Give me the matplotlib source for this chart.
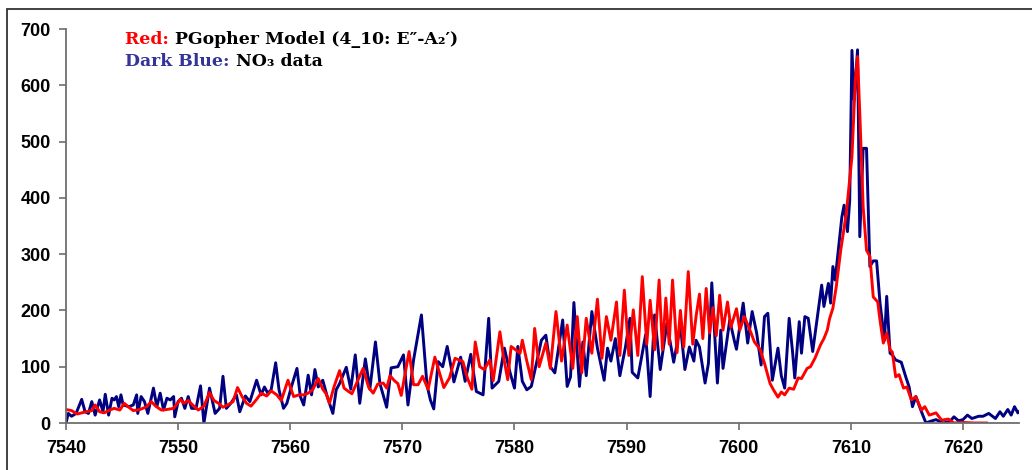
import matplotlib
matplotlib.use("Agg")
import matplotlib.pyplot as plt
from matplotlib.patches import Rectangle

# ---------------- data ----------------
blue_wn = [
    7540.0, 7540.2, 7540.5, 7540.9, 7541.4, 7541.7, 7542.0, 7542.3, 7542.6, 7543.0,
    7543.3, 7543.5, 7543.8, 7544.1, 7544.3, 7544.5, 7544.7, 7544.9, 7545.1, 7545.6,
    7546.0, 7546.3, 7546.4, 7546.7, 7547.0, 7547.3, 7547.8, 7548.1, 7548.4, 7548.7,
    7549.0, 7549.3, 7549.6, 7549.7, 7550.0, 7550.3, 7550.6, 7550.9, 7551.2, 7551.6,
    7552.0, 7552.3, 7552.8, 7553.3, 7553.7, 7554.0, 7554.3, 7554.7, 7555.2, 7555.5,
    7556.0, 7556.4, 7556.8, 7557.0, 7557.4, 7557.7, 7558.0, 7558.3, 7558.7, 7559.0,
    7559.4, 7559.7, 7560.1, 7560.6, 7560.9, 7561.2, 7561.6, 7561.9, 7562.2, 7562.5,
    7562.9, 7563.3, 7563.8, 7564.1, 7564.4, 7565.0, 7565.4, 7565.8, 7566.2, 7566.7,
    7567.1, 7567.6, 7568.0, 7568.6, 7569.0, 7569.6, 7570.1, 7570.5, 7571.0, 7571.7,
    7572.2, 7572.5, 7572.8, 7573.2, 7573.6, 7574.0, 7574.6, 7575.2, 7575.6, 7576.1,
    7576.6, 7577.2, 7577.7, 7578.0, 7578.6, 7579.1, 7579.6, 7580.0, 7580.3, 7580.7,
    7581.1, 7581.5, 7582.0, 7582.4, 7582.8, 7583.2, 7583.6, 7584.3, 7584.7, 7585.0,
    7585.3, 7585.8, 7586.1, 7586.4, 7586.9, 7587.4, 7588.0, 7588.3, 7588.6, 7589.0,
    7589.4, 7589.9, 7590.3, 7590.5, 7591.0, 7591.7, 7592.1, 7592.5, 7593.0, 7593.6,
    7594.2, 7594.8, 7595.2, 7595.6, 7596.0, 7596.2, 7596.5, 7597.0, 7597.3, 7597.6,
    7598.1, 7598.4, 7598.6, 7599.2, 7599.6, 7599.8, 7600.4, 7600.8, 7601.2, 7601.6,
    7602.0, 7602.3, 7602.6, 7603.0, 7603.5, 7603.8, 7604.1, 7604.5, 7604.8, 7605.0,
    7605.4, 7605.6, 7605.9, 7606.2, 7606.6, 7607.4, 7607.6, 7608.0, 7608.2, 7608.4,
    7608.6, 7609.2, 7609.4, 7609.7, 7609.9, 7610.1, 7610.3, 7610.6, 7610.8, 7611.1,
    7611.4, 7611.7, 7612.0, 7612.3, 7612.6, 7613.0, 7613.2, 7613.5, 7613.7, 7614.0,
    7614.5, 7614.9, 7615.2, 7615.5, 7615.8, 7616.3, 7616.7, 7617.1, 7617.6, 7618.2,
    7618.8, 7619.2, 7619.6, 7620.0, 7620.4, 7620.8, 7621.4, 7621.8, 7622.3, 7622.9,
    7623.3, 7623.6, 7624.0, 7624.3, 7624.6, 7624.9, 7625.2,
]
blue_int = [
    0, 17, 12, 17, 42, 20, 17, 38, 14, 41,
    20, 51, 14, 44, 41, 47, 29, 50, 32, 29,
    32, 50, 17, 47, 38, 17, 62, 29, 53, 23,
    44, 41, 47, 11, 38, 44, 26, 47, 26, 26,
    66, 0, 62, 17, 26, 83, 26, 35, 50, 20,
    48, 38, 63, 76, 50, 64, 53, 59, 107, 59,
    26, 35, 64, 97, 47, 32, 85, 50, 95, 64,
    76, 47, 17, 59, 70, 99, 60, 121, 35, 114,
    60, 144, 70, 28, 98, 100, 121, 32, 112, 192,
    67, 41, 25, 109, 100, 136, 73, 117, 74, 122,
    56, 50, 186, 62, 74, 133, 90, 62, 136, 74,
    59, 65, 110, 147, 156, 100, 89, 183, 65, 82,
    214, 65, 144, 84, 198, 133, 76, 133, 110, 150,
    84, 135, 186, 90, 80, 157, 47, 192, 95, 177,
    108, 174, 95, 135, 110, 147, 135, 71, 106, 249,
    71, 165, 97, 183, 147, 131, 213, 142, 198, 160,
    103, 189, 195, 76, 133, 84, 62, 186, 127, 80,
    180, 124, 189, 186, 127, 245, 207, 248, 213, 278,
    254, 366, 387, 340, 395, 662, 574, 663, 331, 488,
    488, 278, 288, 288, 214, 147, 225, 124, 121, 112,
    108, 82, 64, 29, 47, 20, 0, 3, 6, 0,
    2, 11, 4, 6, 14, 8, 12, 12, 17, 8,
    20, 12, 24, 14, 29, 18, 24,
]

red_wn = [
    7540.0, 7540.5, 7541.0, 7541.4, 7541.8, 7542.3, 7542.6, 7543.0, 7543.4, 7543.9,
    7544.3, 7544.8, 7545.2, 7545.6, 7546.0, 7546.6, 7547.2, 7547.6, 7548.0, 7548.5,
    7549.0, 7549.6, 7550.2, 7550.5, 7550.9, 7551.4, 7551.8, 7552.3, 7552.8, 7553.2,
    7553.6, 7554.0, 7554.5, 7554.9, 7555.3, 7555.7, 7556.1, 7556.5, 7557.0, 7557.4,
    7557.9, 7558.3, 7558.8, 7559.2, 7559.8, 7560.3, 7560.8, 7561.2, 7561.6, 7562.0,
    7562.5, 7562.9, 7563.2, 7563.5, 7563.9, 7564.4, 7564.8, 7565.2, 7565.5, 7565.9,
    7566.5, 7567.0, 7567.4, 7567.8, 7568.3, 7568.6, 7568.9, 7569.3, 7569.6, 7569.9,
    7570.6, 7571.0, 7571.4, 7571.8, 7572.3, 7572.9, 7573.3, 7573.7, 7574.2, 7574.7,
    7575.4, 7575.8, 7576.2, 7576.5, 7576.9, 7577.3, 7577.8, 7578.1, 7578.7, 7579.0,
    7579.4, 7579.7, 7580.1, 7580.5, 7580.7, 7581.1, 7581.5, 7581.8, 7582.2, 7582.8,
    7583.2, 7583.7, 7584.2, 7584.7, 7585.2, 7585.6, 7586.0, 7586.4, 7586.9, 7587.4,
    7587.8, 7588.2, 7588.6, 7589.1, 7589.4, 7589.8, 7590.2, 7590.6, 7591.0, 7591.4,
    7591.8, 7592.1, 7592.5, 7592.9, 7593.2, 7593.5, 7593.8, 7594.1, 7594.5, 7594.8,
    7595.1, 7595.5, 7595.9, 7596.2, 7596.5, 7596.8, 7597.1, 7597.4, 7597.7, 7598.0,
    7598.3, 7598.6, 7599.0, 7599.3, 7599.6, 7599.8, 7600.1, 7600.5, 7600.8, 7601.1,
    7601.4, 7601.9, 7602.3, 7602.8, 7603.1, 7603.5, 7603.8, 7604.1, 7604.5, 7604.9,
    7605.3, 7605.6, 7606.1, 7606.4, 7606.8, 7607.3, 7607.6, 7607.9, 7608.1, 7608.4,
    7608.7, 7609.1, 7609.6, 7610.1, 7610.4, 7610.6, 7610.8, 7611.1, 7611.4, 7611.7,
    7612.0, 7612.4, 7612.6, 7612.9, 7613.2, 7613.5, 7613.7, 7614.0, 7614.3, 7614.7,
    7615.0, 7615.4, 7615.8, 7616.3, 7616.6, 7617.0, 7617.6, 7618.1, 7618.7, 7619.2,
    7620.0, 7621.0, 7622.1,
]
red_int = [
    24, 22, 16, 18, 20, 22, 32, 20, 18, 23,
    26, 23, 35, 28, 22, 24, 29, 38, 30, 23,
    24, 26, 42, 35, 40, 30, 23, 30, 54, 40,
    35, 28, 33, 38, 63, 47, 35, 30, 42, 53,
    48, 57, 50, 40, 76, 47, 50, 50, 53, 59,
    79, 60, 52, 35, 64, 93, 62, 56, 52, 70,
    97, 63, 53, 69, 71, 62, 84, 75, 70, 49,
    127, 68, 68, 83, 60, 117, 90, 63, 80, 115,
    109, 80, 60, 144, 100, 95, 112, 75, 162, 120,
    77, 136, 130, 124, 147, 110, 77, 168, 100, 142,
    97, 198, 110, 174, 97, 189, 89, 186, 124, 220,
    115, 189, 147, 215, 120, 236, 120, 201, 120, 260,
    140, 218, 130, 254, 130, 222, 140, 254, 125, 200,
    135, 269, 140, 190, 229, 150, 239, 160, 205, 155,
    227, 165, 215, 170, 190, 203, 165, 189, 175, 160,
    144, 131, 106, 70, 59, 46, 55, 50, 62, 60,
    80, 79, 97, 100, 115, 139, 150, 165, 185, 204,
    242, 307, 373, 473, 609, 651, 550, 384, 307, 296,
    224, 215, 183, 142, 160, 130, 126, 82, 86, 62,
    64, 41, 47, 23, 29, 14, 18, 5, 7, 0,
    1, 0, 0,
]
assert len(blue_wn) == len(blue_int)
assert len(red_wn) == len(red_int)

x_ticks = [7540, 7550, 7560, 7570, 7580, 7590, 7600, 7610, 7620]
y_ticks = [0, 100, 200, 300, 400, 500, 600, 700]

# ---------------- figure ----------------
W, H = 1032, 470
fig = plt.figure(figsize=(W / 100, H / 100), dpi=100)
ax = fig.add_axes([66 / W, 1 - 423 / H, (1019 - 66) / W, (423 - 29) / H])

ax.plot(blue_wn, blue_int, color="#000080", lw=2.1, solid_joinstyle="round")
ax.plot(red_wn, red_int, color="#ff0000", lw=2.1, solid_joinstyle="round")

ax.set_xlim(7540, 7625.0)
ax.set_ylim(0, 700)
ax.set_xticks(x_ticks)
ax.set_yticks(y_ticks)
for s in ("top", "right"):
    ax.spines[s].set_visible(False)
for s in ("left", "bottom"):
    ax.spines[s].set_color("#6e6e6e")
    ax.spines[s].set_linewidth(1.3)
ax.tick_params(direction="out", length=5, width=1.2, color="#6e6e6e")
ax.tick_params(axis="y", pad=6)
ax.tick_params(axis="x", pad=7)
for lab in ax.get_xticklabels() + ax.get_yticklabels():
    lab.set_fontfamily("Liberation Sans")
    lab.set_fontweight("bold")
    lab.set_fontsize(13)
ax.set_facecolor("white")

# outer chart border
fig.patches.append(Rectangle((7 / W, -0.05), 1.2, 1 - 9 / H + 0.05,
                             transform=fig.transFigure, fill=False,
                             edgecolor="#333333", lw=1.3))

# ---------------- legend-like annotation text ----------------
fig.canvas.draw()
renderer = fig.canvas.get_renderer()
tfont = dict(family="DejaVu Serif", weight="bold", size=12.4)


def colored_line(x_px, y_px, parts):
    x = x_px / W
    for txt, col in parts:
        t = fig.text(x, 1 - y_px / H, txt, color=col, va="baseline", ha="left", **tfont)
        bb = t.get_window_extent(renderer=renderer)
        x += bb.width / W


colored_line(125, 44, [("Red: ", "#ff0000"), ("PGopher Model (4_10: E\u2033-A\u2082\u2032)", "black")])
colored_line(125, 66, [("Dark Blue: ", "#333399"), ("NO\u2083 data", "black")])

fig.savefig("out.png", dpi=100)
